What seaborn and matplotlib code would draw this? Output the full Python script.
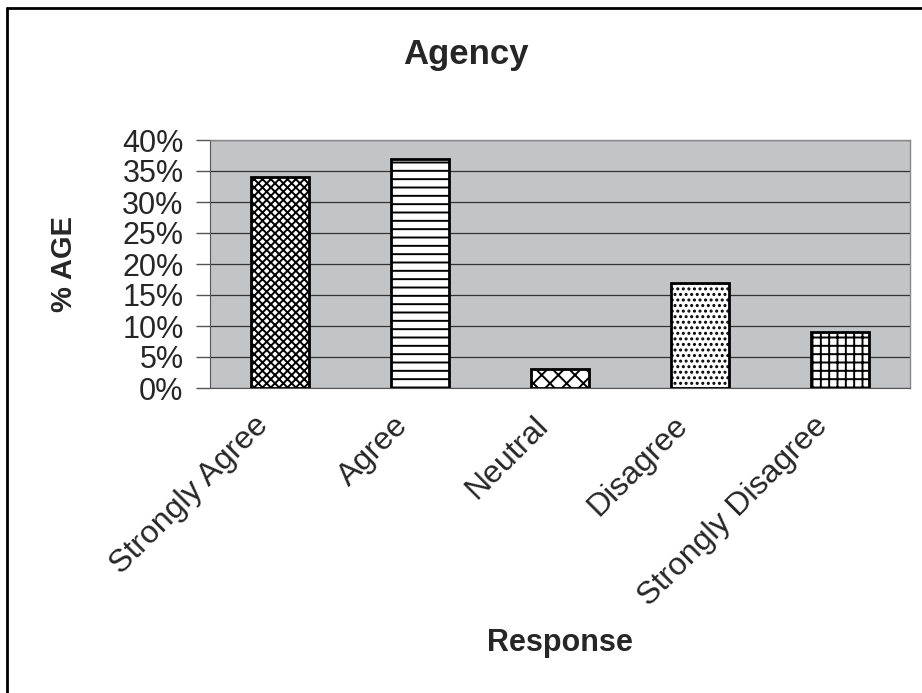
import pandas as pd
import matplotlib.pyplot as plt
import seaborn as sns
from matplotlib.ticker import PercentFormatter
from matplotlib.transforms import ScaledTranslation

# Data
responses = ['Strongly Agree', 'Agree', 'Neutral', 'Disagree', 'Strongly Disagree']
percent = [34, 37, 3, 17, 9]
hatches = ['xxxx', '--', 'xx', '...', '++']

df = pd.DataFrame({'Response': responses, 'Percent': percent})

sns.set_style('white')
plt.rcParams['font.family'] = ['Liberation Sans', 'DejaVu Sans']
plt.rcParams['hatch.linewidth'] = 1.4

fig = plt.figure(figsize=(9.22, 6.93), dpi=100)
ax = fig.add_axes([210 / 922, 1 - 388 / 693, 700 / 922, 248 / 693])

sns.barplot(data=df, x='Response', y='Percent', color='white', width=0.41,
            edgecolor='black', linewidth=2, ax=ax, zorder=3)
for bar, h in zip(ax.patches, hatches):
    bar.set_hatch(h)
    bar.set_facecolor('white')

ax.set_facecolor('#c2c4c6')
ax.set_ylim(0, 40)
ax.set_xlim(-0.5, len(responses) - 0.5)
ax.set_yticks(range(0, 41, 5))
ax.yaxis.set_major_formatter(PercentFormatter(decimals=0))
ax.grid(axis='y', color='#333333', linewidth=0.9, zorder=0)
ax.set_axisbelow(True)

# category ticks sit between bars, labels under each bar
ax.set_xticks(range(len(responses)))
ax.set_xticklabels(responses, rotation=45, ha='right', va='center',
                   rotation_mode='anchor', fontsize=23)
ax.set_xticks([i - 0.5 for i in range(len(responses) + 1)], minor=True)
ax.tick_params(axis='x', which='major', length=0, pad=24)
ax.tick_params(axis='x', which='minor', length=9, width=1, color='#555555')
ax.tick_params(axis='y', labelsize=22, length=10, width=1, color='#555555', left=True, pad=9)

# nudge the rotated labels a little to the left (after tick_params, which resets transforms)
shift = ScaledTranslation(-12 / 72, 0, fig.dpi_scale_trans)
for lbl in ax.get_xticklabels():
    lbl.set_transform(lbl.get_transform() + shift)

for side in ['top', 'right']:
    ax.spines[side].set_color('#888888')
    ax.spines[side].set_linewidth(1)
ax.spines['bottom'].set_color('#555555')
ax.spines['left'].set_color('#555555')

ax.set_xlabel('Response', fontsize=22, fontweight='bold', labelpad=12)
ax.set_ylabel('% AGE', fontsize=21, fontweight='bold', labelpad=32)
fig.text(0.505, 0.921, 'Agency', ha='center', va='center', fontsize=25, fontweight='bold')

# outer frame of the pasted chart (top and left edges)
fig.add_artist(plt.Line2D([7 / 922, 1], [1 - 8 / 693, 1 - 8 / 693], color='black', lw=2))
fig.add_artist(plt.Line2D([7 / 922, 7 / 922], [0, 1 - 8 / 693], color='black', lw=2))

plt.savefig('out.png', dpi=100)
